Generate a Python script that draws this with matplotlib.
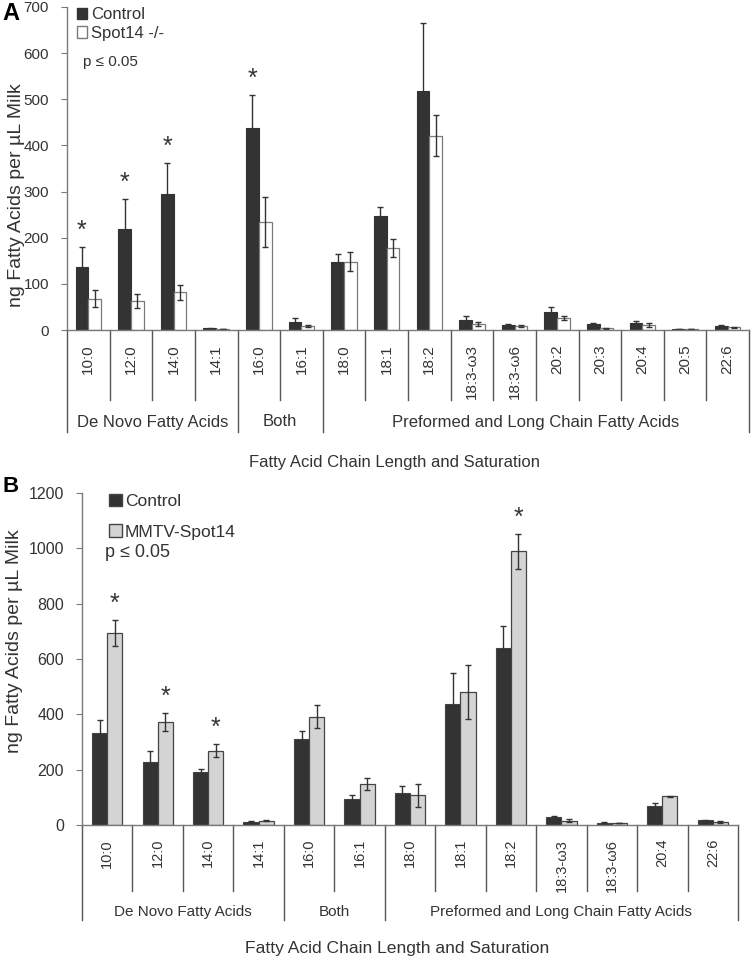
import matplotlib
matplotlib.use("Agg")
import matplotlib.pyplot as plt
import matplotlib.transforms as mtransforms
from matplotlib.patches import Patch
import numpy as np

plt.rcParams['font.family'] = ['Liberation Sans', 'DejaVu Sans']

# panel A - Spot14 knockout
a_cats = ['10:0', '12:0', '14:0', '14:1', '16:0', '16:1', '18:0', '18:1', '18:2',
          '18:3-ω3', '18:3-ω6', '20:2', '20:3', '20:4', '20:5', '22:6']
a_ctrl = [137, 218, 294, 4, 438, 18, 148, 247, 519, 22, 11, 40, 12, 16, 2, 9]
a_ctrl_err = [43, 65, 68, 1, 72, 9, 16, 19, 147, 8, 2, 10, 3, 3, 0.5, 2]
a_ko = [68, 63, 82, 2, 234, 8, 148, 178, 421, 13, 9, 26, 4, 11, 2, 6]
a_ko_err = [18, 16, 16, 0.5, 55, 2, 20, 20, 44, 4, 2, 4, 1, 4, 0.5, 1]
a_star = [0, 1, 2, 4]          # stars over control bars
a_groups = [('De Novo Fatty Acids', 4), ('Both', 2), ('Preformed and Long Chain Fatty Acids', 10)]

# panel B - MMTV-Spot14 transgenic
b_cats = ['10:0', '12:0', '14:0', '14:1', '16:0', '16:1', '18:0', '18:1', '18:2',
          '18:3-ω3', '18:3-ω6', '20:4', '22:6']
b_ctrl = [334, 226, 193, 12, 312, 93, 116, 438, 638, 28, 8, 69, 17]
b_ctrl_err = [46, 43, 8, 2, 28, 14, 25, 111, 83, 3, 2, 11, 2]
b_tg = [694, 372, 268, 16, 392, 148, 107, 480, 990, 16, 7, 104, 11]
b_tg_err = [48, 32, 24, 3, 41, 21, 41, 97, 63, 4, 1, 2, 2]
b_star = [0, 1, 2, 8]          # stars over transgenic bars
b_groups = [('De Novo Fatty Acids', 4), ('Both', 2), ('Preformed and Long Chain Fatty Acids', 7)]

W, H = 751, 961
fig = plt.figure(figsize=(W / 100, H / 100), dpi=100)

TXT = '#333333'
AX = '#7a7a7a'
DARK = '#333333'


def panel(rect, cats, v1, e1, v2, e2, stars, star_on, groups, ymax, ystep,
          c2, ec2, ec1, yfs, xfs, gfs, tfs, cat_px, grp_px, lab_px, title_px, ylab_xy):
    l, t, r, b = rect
    ax = fig.add_axes([l / W, 1 - b / H, (r - l) / W, (b - t) / H])
    h_px = b - t
    n = len(cats)
    x = np.arange(n) + 0.5
    w = 0.3
    ax.bar(x - w / 2, v1, w, color=DARK, edgecolor=ec1, linewidth=0.8,
           yerr=e1, error_kw=dict(ecolor='#333333', elinewidth=1, capsize=2.5, capthick=1))
    ax.bar(x + w / 2, v2, w, color=c2, edgecolor=ec2, linewidth=0.9,
           yerr=e2, error_kw=dict(ecolor='#333333', elinewidth=1, capsize=2.5, capthick=1))
    for i in stars:
        if star_on == 1:
            xs, top = x[i] - w / 2, v1[i] + e1[i]
        else:
            xs, top = x[i] + w / 2, v2[i] + e2[i]
        ax.annotate('*', xy=(xs, top), xytext=(0, 3), textcoords='offset points',
                    ha='center', va='bottom', fontsize=18, color=TXT)

    ax.set_xlim(0, n)
    ax.set_ylim(0, ymax)
    ax.set_yticks(np.arange(0, ymax + 1, ystep))
    ax.tick_params(axis='y', direction='out', length=4, color=AX, labelsize=yfs,
                   labelcolor=TXT, pad=9)
    ax.set_xticks(x)
    ax.set_xticklabels(cats, rotation=90, fontsize=xfs, color=TXT)
    ax.tick_params(axis='x', length=0, pad=10)
    for s in ['top', 'right']:
        ax.spines[s].set_visible(False)
    for s in ['left', 'bottom']:
        ax.spines[s].set_color(AX)
        ax.spines[s].set_linewidth(1)

    trans = mtransforms.blended_transform_factory(ax.transData, ax.transAxes)
    bounds = [0]
    for _, k in groups:
        bounds.append(bounds[-1] + k)
    for i in range(n + 1):
        end = grp_px if i in bounds else cat_px
        ax.plot([i, i], [0, -end / h_px], transform=trans, color='#555555',
                lw=1, clip_on=False)
    for (name, k), s0 in zip(groups, bounds[:-1]):
        ax.text(s0 + k / 2, -lab_px / h_px, name, transform=trans, ha='center',
                va='center', fontsize=gfs, color=TXT)
    ax.text(0.48, -title_px / h_px, 'Fatty Acid Chain Length and Saturation',
            transform=ax.transAxes, ha='center', va='center', fontsize=tfs, color=TXT)
    ax.set_ylabel('ng Fatty Acids per µL Milk', fontsize=14, color=TXT)
    ax.yaxis.set_label_coords(*ylab_xy)
    return ax


ax1 = panel((67, 7, 749, 330), a_cats, a_ctrl, a_ctrl_err, a_ko, a_ko_err, a_star, 1,
            a_groups, 700, 100, 'white', '#7a7a7a', DARK, 11, 11, 12, 12,
            70, 102, 92, 132, (-0.062, 0.418))
ax2 = panel((82, 493, 738, 825), b_cats, b_ctrl, b_ctrl_err, b_tg, b_tg_err, b_star, 2,
            b_groups, 1200, 200, '#d4d4d4', '#444444', '#444444', 11.5, 10.5, 11, 12.6,
            66, 95, 87, 123, (-0.09, 0.554))

# legends
h1 = [Patch(facecolor=DARK, edgecolor=DARK), Patch(facecolor='white', edgecolor='#7a7a7a')]
leg1 = ax1.legend(h1, ['Control', 'Spot14 -/-'], loc='upper left', bbox_to_anchor=(-0.008, 1.045),
                  frameon=False, fontsize=12, handlelength=0.65, handleheight=0.65,
                  handletextpad=0.2, labelspacing=0.2, borderaxespad=0.5)
for t in leg1.get_texts():
    t.set_color(TXT)
ax1.text(0.024, 0.83, 'p ≤ 0.05', transform=ax1.transAxes, fontsize=11, color=TXT,
         va='center')

h2 = [Patch(facecolor=DARK, edgecolor='#444444'), Patch(facecolor='#d4d4d4', edgecolor='#444444')]
leg2 = ax2.legend(h2, ['Control', 'MMTV-Spot14'], loc='upper left', bbox_to_anchor=(0.018, 1.045),
                  frameon=False, fontsize=12.5, handlelength=0.7, handleheight=0.7,
                  handletextpad=0.2, labelspacing=0.9, borderaxespad=0.5)
for t in leg2.get_texts():
    t.set_color(TXT)
ax2.text(0.035, 0.82, 'p ≤ 0.05', transform=ax2.transAxes, fontsize=13, color=TXT,
         va='center')

fig.text(2 / W, 1 - 14 / H, 'A', fontsize=17, fontweight='bold', va='center', ha='left')
fig.text(2 / W, 1 - 487 / H, 'B', fontsize=16, fontweight='bold', va='center', ha='left')

fig.savefig('out.png', dpi=100)
